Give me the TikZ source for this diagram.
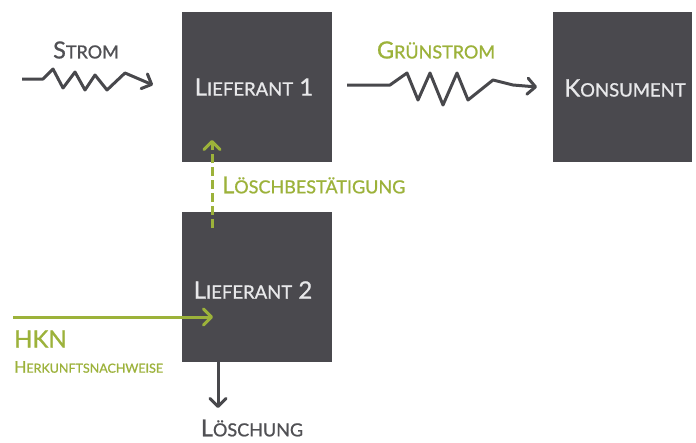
\documentclass[tikz,border=0pt]{standalone}
\usepackage{fontspec}
\setmainfont{Lato}[FakeBold=0.9]
\usetikzlibrary{arrows.meta}

\definecolor{boxgray}{RGB}{74,73,78}
\definecolor{boxtext}{RGB}{232,232,234}
\definecolor{leafgreen}{RGB}{156,178,58}
\definecolor{darkline}{RGB}{72,72,76}
\definecolor{labelgray}{RGB}{80,80,84}

% faked small capitals: first letter at the current size, rest at size #1
\newcommand\fakesc[3]{#2{\fontsize{#1}{#1}\selectfont #3}}

\tikzset{
  block/.style={fill=boxgray, draw=none, inner sep=0pt, minimum height=150pt},
  blocktext/.style={text=boxtext, font=\fontsize{24}{24}\selectfont, inner sep=0pt},
  caption/.style={font=\fontsize{23.5}{23.5}\selectfont, inner sep=0pt},
  barb/.style={-{Straight Barb[length=8pt,width=16pt,line cap=round,line join=round]}},
  flow/.style={line width=3pt, line join=round, barb},
}

\begin{document}
\begin{tikzpicture}[x=1pt,y=-1pt]
\useasboundingbox (0,0) rectangle (696,442);
\fill[white] (0,0) rectangle (696,442);

% blocks
\node[block, minimum width=150pt] (L1) at (257,87) {};
\node[block, minimum width=139pt] (K)  at (622.5,87) {};
\node[block, minimum width=150pt] (L2) at (257,287) {};

\node[blocktext] (L1t) at (254,87) {\fakesc{18.5}{L}{IEFERANT}~1};
\node[blocktext] (Kt)  at (625,88) {\fakesc{18.5}{K}{ONSUMENT}};
\node[blocktext] (L2t) at (253,290) {\fakesc{18.5}{L}{IEFERANT}~2};

% end points of the flows
\coordinate (sIn)  at (22,79);
\coordinate (sOut) at (153,85);
\coordinate (gIn)  at (347,85);
\coordinate (gOut) at (537,87);
\coordinate (cIn)  at (212,228);
\coordinate (cOut) at (212,140);
\coordinate (hIn)  at (13,317);
\coordinate (hOut) at (213,317);
\coordinate (dOut) at (218,408);

% Strom
\draw[flow, darkline] (sIn) -- (43,79) -- (53,69) -- (63,88) -- (75,72) -- (85,90)
  -- (95,75) -- (107,90) -- (125,73) -- (sOut);
\node[caption, text=labelgray] (strom) at (86,50) {\fakesc{18}{S}{TROM}};

% Gruenstrom
\draw[flow, darkline] (gIn) -- (390,85) -- (407,73) -- (418,100) -- (430,73) -- (443,105)
  -- (457,73) -- (468,100) -- (493,80) -- (513,85) -- (gOut);
\node[caption, text=leafgreen] (gruen) at (436,50) {\fakesc{18}{G}{RÜNSTROM}};

% confirmation of cancellation
\draw[flow, leafgreen, dash pattern=on 9pt off 4pt, line cap=butt] (cIn) -- (cOut);
\node[caption, text=leafgreen, anchor=west] (best) at (222,185) {\fakesc{18}{L}{ÖSCHBESTÄTIGUNG}};

% HKN input
\draw[flow, leafgreen] (hIn) -- (hOut);
\node[text=leafgreen, anchor=west, inner sep=0pt, font=\fontsize{24}{24}\selectfont] (hkn) at (14,339) {HKN};
\node[text=leafgreen, anchor=west, inner sep=0pt, font=\fontsize{16}{16}\selectfont] (herk) at (14,367) {\fakesc{12.5}{H}{ERKUNFTSNACHWEISE}};

% cancellation
\draw[flow, darkline] (L2.south -| dOut) -- (dOut);
\node[caption, text=labelgray] (loesch) at (252,428) {\fakesc{18}{L}{ÖSCHUNG}};
\end{tikzpicture}
\end{document}
